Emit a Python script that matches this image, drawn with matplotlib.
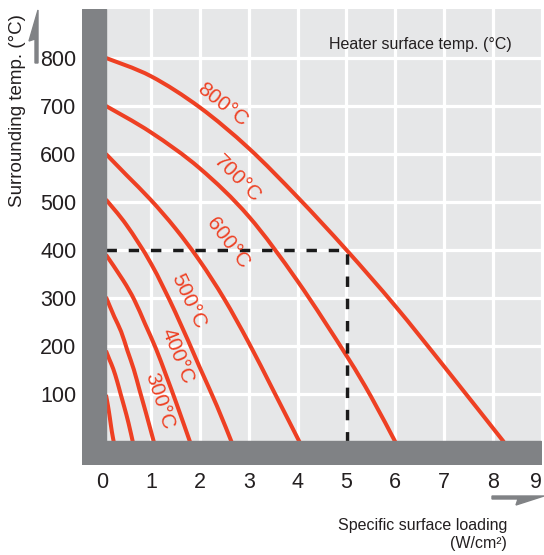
import matplotlib
matplotlib.use("Agg")
import matplotlib.pyplot as plt
import numpy as np
from matplotlib import font_manager
from matplotlib.patches import Rectangle, Polygon, PathPatch
from matplotlib.path import Path

# condensed look like the original, if the narrow face is there
names = {f.name for f in font_manager.fontManager.ttflist}
fam = "Liberation Sans Narrow" if "Liberation Sans Narrow" in names else "Liberation Sans"
plt.rcParams["font.family"] = [fam, "DejaVu Sans"]

# curves: heater surface temp -> (loading W/cm2, surrounding temp C)
x_800 = [0.08, 1.0, 2.0, 3.0, 4.0, 5.0, 6.0, 7.0, 8.22]
y_800 = [800, 762, 697, 612, 510, 400, 283, 157, 0]
x_700 = [0.08, 1.0, 2.0, 3.0, 4.0, 5.0, 5.5, 6.0]
y_700 = [700, 645, 570, 470, 335, 180, 95, 0]
x_600 = [0.08, 0.5, 1.0, 1.5, 2.0, 2.5, 3.0, 3.5, 4.04]
y_600 = [600, 556, 504, 445, 377, 298, 207, 108, 0]
x_500 = [0.08, 0.5, 1.0, 1.5, 2.0, 2.35, 2.65]
y_500 = [505, 452, 372, 270, 155, 75, 0]
x_400 = [0.08, 0.43, 0.66, 0.88, 1.1, 1.31, 1.53, 1.8]
y_400 = [390, 337, 296, 246, 195, 139, 78, 0]
x_300 = [0.08, 0.25, 0.39, 0.52, 0.65, 0.77, 0.9, 1.06]
y_300 = [302, 261, 230, 190, 151, 107, 60, 0]
x_200 = [0.08, 0.15, 0.23, 0.31, 0.38, 0.46, 0.54, 0.63]
y_200 = [190, 172, 152, 126, 100, 71, 40, 0]
x_100 = [0.08, 0.12, 0.16, 0.2, 0.24]
y_100 = [98, 76, 50, 22, 0]

curves = [(x_800, y_800), (x_700, y_700), (x_600, y_600), (x_500, y_500),
          (x_400, y_400), (x_300, y_300), (x_200, y_200), (x_100, y_100)]

# label text, position, angle
labels = ["800°C", "700°C", "600°C", "500°C", "400°C", "300°C"]
lab_x = [2.47, 2.76, 2.57, 1.76, 1.55, 1.18]
lab_y = [702, 548, 415, 294, 179, 85]
lab_rot = [-38, -45, -53, -65, -68, -72]

# reading example
ex_load = 5.02
ex_temp = 400

red = "#ee4023"
dark = "#808285"
light = "#e6e7e8"
txt = "#231f20"


def smooth_path(xs, ys):
    # catmull-rom through the read points, as cubic bezier segments
    p = np.column_stack([xs, ys]).astype(float)
    q = np.vstack([p[0], p, p[-1]])
    verts = [p[0]]
    codes = [Path.MOVETO]
    for i in range(len(p) - 1):
        c1 = q[i + 1] + (q[i + 2] - q[i]) / 6
        c2 = q[i + 2] - (q[i + 3] - q[i + 1]) / 6
        verts += [c1, c2, q[i + 2]]
        codes += [Path.CURVE4] * 3
    return Path(verts, codes)


fig = plt.figure(figsize=(5.44, 5.55), dpi=100)
ax = fig.add_axes([82 / 544, 1 - 465 / 555, 460 / 544, 456 / 555])
ax.set_xlim(-0.41, 8.98)
ax.set_ylim(-48, 902)
ax.set_facecolor(light)
for s in ax.spines.values():
    s.set_visible(False)

ax.set_xticks(range(10))
ax.set_yticks(range(100, 900, 100))
ax.tick_params(length=0, labelsize=15.5, labelcolor=txt)
ax.tick_params(axis="x", pad=5)
ax.tick_params(axis="y", pad=4)
ax.get_xticklabels()[-1].set_ha("right")
ax.grid(True, color="white", lw=2.3)
ax.set_axisbelow(True)

for xs, ys in curves:
    ax.add_patch(PathPatch(smooth_path(xs, ys), facecolor="none", edgecolor=red,
                           lw=2.9, zorder=2))

for t, lx, ly, r in zip(labels, lab_x, lab_y, lab_rot):
    ax.text(lx, ly, t, color=red, fontsize=15, rotation=r,
            rotation_mode="anchor", ha="center", va="center", zorder=4)

ax.plot([0.08, ex_load], [ex_temp, ex_temp], color="#1a1a1a", lw=2.5,
        linestyle=(0, (3.0, 3.4)), zorder=3)
ax.plot([ex_load, ex_load], [0, ex_temp], color="#1a1a1a", lw=2.5,
        linestyle=(0, (3.0, 3.4)), zorder=3)

# the grey L-shaped axis walls
ax.add_patch(Rectangle((-0.41, -48), 0.49, 950, color=dark, zorder=5))
ax.add_patch(Rectangle((0, -48), 8.98, 49, color=dark, zorder=5))


# half arrows beside the axes
def fpx(pts):
    return [(px / 544, 1 - py / 555) for px, py in pts]


fig.add_artist(Polygon(fpx([(38, 10), (29, 41), (35, 39), (35, 63), (38, 63)]),
                       closed=True, color=dark, transform=fig.transFigure))
fig.add_artist(Polygon(fpx([(492, 496), (544, 496), (516, 505), (518, 499), (492, 499)]),
                       closed=True, color=dark, transform=fig.transFigure))

fig.text(512 / 544, 1 - 49 / 555, "Heater surface temp. (°C)", ha="right",
         va="baseline", fontsize=11.5, color=txt)
fig.text(18 / 544, 1 - 111 / 555, "Surrounding temp. (°C)", rotation=90,
         ha="center", va="center", fontsize=13.5, color=txt)
fig.text(507 / 544, 1 - 530 / 555, "Specific surface loading", ha="right",
         va="baseline", fontsize=11.5, color=txt)
fig.text(507 / 544, 1 - 548 / 555, "(W/cm²)", ha="right",
         va="baseline", fontsize=11.5, color=txt)

fig.savefig("out.png", dpi=100)
